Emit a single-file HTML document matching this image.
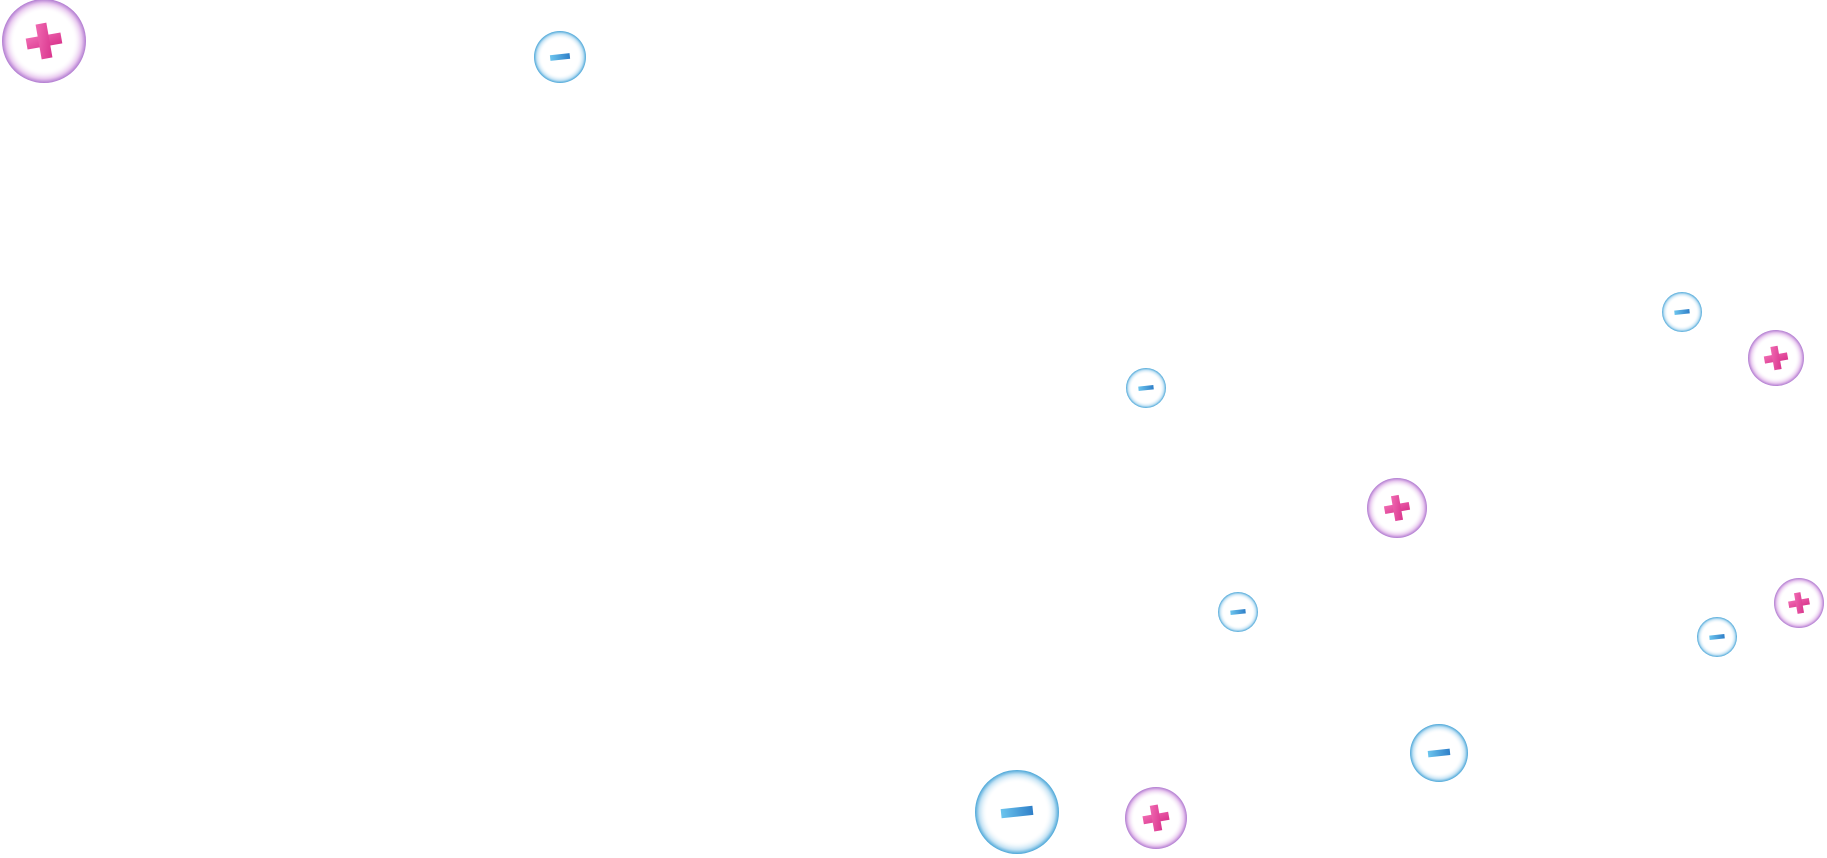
<!DOCTYPE html>
<html><head><meta charset="utf-8"><style>html,body{margin:0;padding:0;background:#fff;width:1827px;height:858px;overflow:hidden}</style></head>
<body>
<svg width="1827" height="858" viewBox="0 0 1827 858" xmlns="http://www.w3.org/2000/svg">
<defs>
<radialGradient id="bp" cx="50%" cy="50%" r="50%">
<stop offset="0.7" stop-color="#fff" stop-opacity="0"/>
<stop offset="0.9" stop-color="#e7c6ee"/>
<stop offset="1" stop-color="#b07ad0"/>
</radialGradient>
<radialGradient id="bm" cx="50%" cy="50%" r="50%">
<stop offset="0.7" stop-color="#fff" stop-opacity="0"/>
<stop offset="0.9" stop-color="#bfe0f3"/>
<stop offset="1" stop-color="#4aa6d8"/>
</radialGradient>
<linearGradient id="pk" x1="0" y1="0" x2="1" y2="1"><stop offset="0" stop-color="#f06ab2"/><stop offset="1" stop-color="#d9358d"/></linearGradient>
<linearGradient id="bl" x1="0" y1="0" x2="1" y2="0"><stop offset="0" stop-color="#6cc5ee"/><stop offset="1" stop-color="#2f7fc8"/></linearGradient>
<g id="P"><circle r="1" fill="url(#bp)"/><g transform="rotate(-10)"><rect x="-0.42" y="-0.13" width="0.84" height="0.26" fill="url(#pk)"/><rect x="-0.13" y="-0.42" width="0.26" height="0.84" fill="url(#pk)"/></g></g>
<g id="M"><circle r="1" fill="url(#bm)"/><rect x="-0.38" y="-0.11" width="0.76" height="0.22" fill="url(#bl)" transform="rotate(-6)"/></g>
</defs>
<use href="#P" transform="translate(44,41) scale(42)"/>
<use href="#M" transform="translate(560,57) scale(26)"/>
<use href="#M" transform="translate(1682,312) scale(20)"/>
<use href="#P" transform="translate(1776,358) scale(28)"/>
<use href="#M" transform="translate(1146,388) scale(20)"/>
<use href="#P" transform="translate(1397,508) scale(30)"/>
<use href="#M" transform="translate(1238,612) scale(20)"/>
<use href="#P" transform="translate(1799,603) scale(25)"/>
<use href="#M" transform="translate(1717,637) scale(20)"/>
<use href="#M" transform="translate(1439,753) scale(29)"/>
<use href="#M" transform="translate(1017,812) scale(42)"/>
<use href="#P" transform="translate(1156,818) scale(31)"/>
</svg>
</body></html>
